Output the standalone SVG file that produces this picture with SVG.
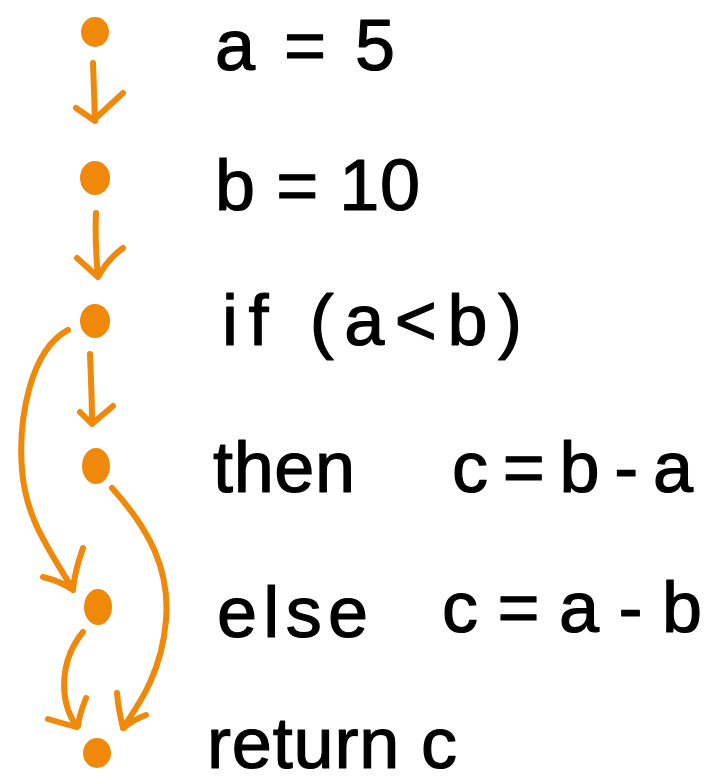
<svg xmlns="http://www.w3.org/2000/svg" width="723" height="784" viewBox="0 0 723 784">
<style>
.dot{fill:#F0880A}
.edge{fill:none;stroke:#F0880A;stroke-width:6;stroke-linecap:round;stroke-linejoin:round}
.lbl{font-family:"Liberation Sans","DejaVu Sans",sans-serif;font-size:72px;fill:#000;stroke:#000;stroke-width:1.2;stroke-linejoin:round}
</style>
<rect width="723" height="784" fill="#fff"/>
<g id="connectors">
  <path class="edge" d="M93,63 L95,121 M76,108 L95,121 M123,93 L97,117"/>
  <path class="edge" d="M96,213 C95,235 96,255 98,277 M77,258 L98,277 M123,248 C112,256 104,266 98,277"/>
  <path class="edge" d="M90,354 C91,380 92,400 92,424 M80,412 L92,424 M113,406 L93,423"/>
  <path class="edge" d="M68,330 C30,350 18,420 22,470 C26,520 50,550 73,590 M43,577 C55,580 65,584 73,590 M83,548 C78,562 74,575 73,590"/>
  <path class="edge" d="M112,488 C150,530 170,570 166,620 C162,670 142,700 123,728 M117,693 C118,705 120,716 123,728 M146,715 C138,718 130,722 124,728"/>
  <path class="edge" d="M83,632 C60,660 58,700 77,727 M48,719 C58,722 68,725 77,727 M86,698 C82,708 79,716 78,726"/>
</g>
<g id="n1"><ellipse class="dot" cx="95" cy="32" rx="14" ry="15"/><text class="lbl" x="215" y="70" textLength="180" lengthAdjust="spacing">a = 5</text></g>
<g id="n2"><ellipse class="dot" cx="95" cy="178" rx="15" ry="17"/><text class="lbl" x="215" y="210" textLength="205" lengthAdjust="spacing">b = 10</text></g>
<g id="n3"><ellipse class="dot" cx="95" cy="321" rx="15" ry="17"/><text class="lbl" x="222" y="345" textLength="300" lengthAdjust="spacing">if (a&lt;b)</text></g>
<g id="n4"><ellipse class="dot" cx="96" cy="466" rx="14" ry="18"/><text class="lbl" x="213" y="492" textLength="142" lengthAdjust="spacing">then</text><text class="lbl" x="452" y="492" textLength="241" lengthAdjust="spacing">c=b-a</text></g>
<g id="n5"><ellipse class="dot" cx="98" cy="607" rx="14" ry="18"/><text class="lbl" x="217" y="637" textLength="151" lengthAdjust="spacing">else</text><text class="lbl" x="442" y="632" textLength="260" lengthAdjust="spacing">c = a - b</text></g>
<g id="n6"><ellipse class="dot" cx="97" cy="753" rx="14" ry="15"/><text class="lbl" x="207" y="768" textLength="250" lengthAdjust="spacing">return c</text></g>
</svg>
